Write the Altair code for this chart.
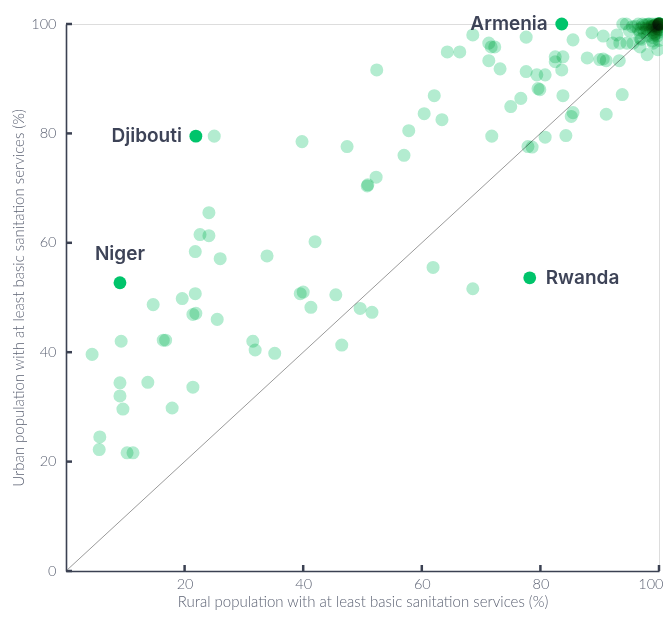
import altair as alt
import pandas as pd

# Rural (x) and urban (y) population with at least basic sanitation services (%)
rural = [
    4.4, 5.7, 5.6, 9.3, 9.1, 9.1, 9.6, 10.3, 11.3, 13.8, 14.7, 16.4, 16.8, 17.9,
    19.6, 21.8, 21.4, 21.9, 21.4, 21.8, 22.6, 24.1, 24.1, 26.0, 25.5, 25.0, 33.9,
    31.5, 31.9, 35.2, 39.5, 40.0, 42.0, 45.5, 41.3, 49.6, 51.6, 46.5, 61.9, 68.6,
    50.8, 50.9, 52.3, 39.8, 47.4, 52.4, 57.0, 57.8, 60.4, 62.1, 63.4, 71.8, 64.3,
    66.4, 68.6, 71.3, 71.7, 72.3, 71.3, 73.2, 77.6, 77.6, 79.4, 80.8, 79.6, 79.9,
    76.7, 75.0, 77.9, 78.6, 80.8, 84.3, 85.5, 85.2, 83.8, 91.1, 93.8, 82.5, 83.8,
    82.5, 83.6, 85.5, 87.9, 88.7, 90.6, 90.0, 91.1, 90.6, 93.3, 92.2, 93.4, 92.9,
    93.9, 94.6, 95.6, 96.8, 96.8, 98.0, 99.8, 99.0, 99.0, 95.5, 96.5, 97.5,
    100, 100, 100, 100, 100, 100, 100, 100, 100, 100, 99.5, 99.8, 99.2, 98.9,
    99.6, 98.5, 100, 99.0, 98.2, 97.8, 100, 99.4, 98.6, 97.2, 96.0, 98.0, 100,
    99.7, 95.0, 97.0, 94.5, 99.9, 99.3, 100, 99.8, 99.6, 100, 99.1,
    98.0, 97.5, 99.0, 98.8, 97.0, 99.5, 98.4, 96.5, 99.2, 100, 98.9, 97.9, 99.7,
    100, 96.8,
]
urban = [
    39.6, 24.5, 22.2, 42.0, 34.4, 32.0, 29.6, 21.6, 21.6, 34.5, 48.7, 42.2, 42.2, 29.8,
    49.8, 50.7, 46.9, 47.1, 33.6, 58.4, 61.5, 61.3, 65.5, 57.1, 46.0, 79.5, 57.6,
    42.0, 40.4, 39.8, 50.7, 51.0, 60.2, 50.5, 48.2, 48.0, 47.3, 41.3, 55.5, 51.6,
    70.4, 70.6, 72.0, 78.5, 77.6, 91.6, 76.0, 80.5, 83.6, 86.9, 82.5, 79.5, 94.9,
    94.9, 98.0, 96.5, 95.8, 95.8, 93.3, 91.8, 97.6, 91.3, 90.7, 90.7, 88.2, 88.0,
    86.4, 84.9, 77.6, 77.5, 79.3, 79.6, 83.8, 83.1, 86.9, 83.5, 87.1, 94.0, 94.0,
    93.1, 91.6, 97.1, 93.8, 98.4, 97.8, 93.5, 93.3, 93.6, 93.3, 96.5, 96.5, 98.0,
    100, 96.5, 96.5, 98.4, 95.8, 94.4, 95.3, 96.5, 98.4, 99.5, 100, 99.8,
    100, 100, 100, 100, 100, 100, 100, 100, 100, 100, 100, 99.6, 99.8, 100,
    99.2, 99.5, 99.0, 99.0, 100, 99.2, 98.5, 98.2, 98.8, 100, 99.6, 97.8, 97.0,
    97.8, 98.8, 97.2, 100, 99.9, 99.7, 99.8, 100, 99.5, 99.9, 99.6,
    99.0, 98.5, 97.5, 99.6, 99.3, 98.7, 100, 99.0, 98.0, 99.4, 96.9, 99.9, 99.1,
    98.9, 97.4,
]

highlight_country = ["Armenia", "Djibouti", "Niger", "Rwanda"]
highlight_rural = [83.6, 21.9, 9.1, 78.2]
highlight_urban = [100.0, 79.5, 52.7, 53.6]
label_side = ["left", "left", "top", "right"]

x_ticks = [20, 40, 60, 80, 100]
y_ticks = [0, 20, 40, 60, 80, 100]
diag = [0, 100]

n = min(len(rural), len(urban))
df = pd.DataFrame({"rural": rural[:n], "urban": urban[:n]})
hl = pd.DataFrame({"country": highlight_country, "rural": highlight_rural,
                   "urban": highlight_urban, "side": label_side})
diag_df = pd.DataFrame({"rural": diag, "urban": diag})
xt_df = pd.DataFrame({"v": x_ticks})
yt_df = pd.DataFrame({"v": y_ticks})

AXIS_COLOR = "#3b4152"
TEXT_GRAY = "#5d6374"
LABEL_FONT = "Lato"
ANNOT_FONT = "Inter"
PLOT_H = 547

xscale = alt.Scale(domain=[0, 100], nice=False, zero=True)
yscale = alt.Scale(domain=[0, 100], nice=False, zero=True)

common_axis = dict(grid=False, ticks=False, tickSize=0, domainColor=AXIS_COLOR, domainWidth=1.6,
                   labelFont=LABEL_FONT, labelFontSize=14.5, labelFontWeight=300,
                   labelColor=TEXT_GRAY, titleFont=LABEL_FONT, titleFontSize=15,
                   titleFontWeight=300, titleColor=TEXT_GRAY)
xaxis = alt.Axis(values=x_ticks, title="Rural population with at least basic sanitation services (%)",
                 labelPadding=6, titlePadding=4, labelFlush=True, labelFlushOffset=4,
                 **common_axis)
yaxis = alt.Axis(values=y_ticks, title="Urban population with at least basic sanitation services (%)",
                 labelPadding=10, titlePadding=4, **common_axis)

base_x = alt.X("rural:Q", scale=xscale, axis=xaxis)
base_y = alt.Y("urban:Q", scale=yscale, axis=yaxis)
px = alt.X("rural:Q", scale=xscale)
py = alt.Y("urban:Q", scale=yscale)

diag_line = alt.Chart(diag_df).mark_line(color="#9a9a9a", strokeWidth=1).encode(
    x=base_x, y=base_y)

points = alt.Chart(df).mark_circle(size=170, color="#b3ecd0", opacity=1, blend="multiply").encode(
    x=px, y=py)

hl_points = alt.Chart(hl).mark_circle(size=165, color="#00c46b", opacity=1).encode(x=px, y=py)

text_kw = dict(font=ANNOT_FONT, fontSize=19, fontWeight=600, color="#3d4357", baseline="middle")
lbl_left = alt.Chart(hl).transform_filter(alt.datum.side == "left").mark_text(
    align="right", dx=-14, **text_kw).encode(x=px, y=py, text="country:N")
lbl_top = alt.Chart(hl).transform_filter(alt.datum.side == "top").mark_text(
    align="center", dy=-29, **text_kw).encode(x=px, y=py, text="country:N")
lbl_right = alt.Chart(hl).transform_filter(alt.datum.side == "right").mark_text(
    align="left", dx=16, **text_kw).encode(x=px, y=py, text="country:N")

yticks = alt.Chart(yt_df).mark_rule(color=AXIS_COLOR, strokeWidth=2.5).encode(
    y=alt.Y("v:Q", scale=yscale), x=alt.value(0), x2=alt.value(6))
xticks = alt.Chart(xt_df).mark_rule(color=AXIS_COLOR, strokeWidth=2.5).encode(
    x=alt.X("v:Q", scale=xscale), y=alt.value(PLOT_H), y2=alt.value(PLOT_H - 6))

chart = alt.layer(diag_line, points, hl_points, lbl_left, lbl_top, lbl_right, yticks, xticks).properties(
    width=593, height=PLOT_H,
    autosize=alt.AutoSizeParams(type="none"),
    padding={"left": 58, "top": 16, "right": 4, "bottom": 39},
).configure_view(stroke=None).configure(background="white")

chart.save("out.html", embed_options={"renderer": "svg", "actions": False})
